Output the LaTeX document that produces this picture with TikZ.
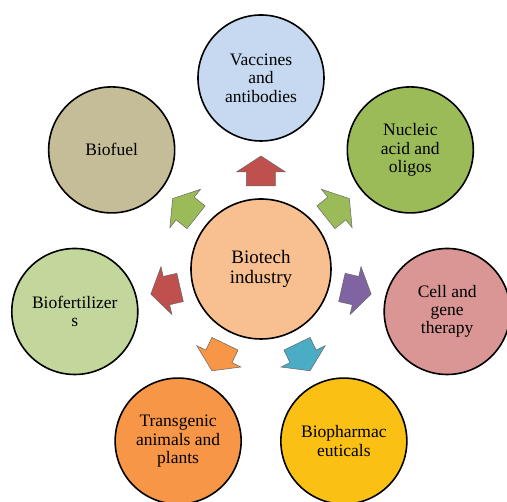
\documentclass[tikz,border=0pt]{standalone}
\usepackage{fontspec}
\setmainfont{Liberation Serif}

\definecolor{hubpeach}{RGB}{248,192,144}
\definecolor{vaccblue}{RGB}{198,217,240}
\definecolor{nuclgreen}{RGB}{155,187,89}
\definecolor{cellpink}{RGB}{217,150,148}
\definecolor{pharmgold}{RGB}{250,192,20}
\definecolor{transorange}{RGB}{247,150,70}
\definecolor{fertgreen}{RGB}{195,214,155}
\definecolor{fueltan}{RGB}{196,189,151}
\definecolor{arrred}{RGB}{192,80,77}
\definecolor{arrgreen}{RGB}{155,187,89}
\definecolor{arrpurple}{RGB}{128,100,162}
\definecolor{arrteal}{RGB}{75,172,198}
\definecolor{arrorange}{RGB}{247,150,70}

\begin{document}
\begin{tikzpicture}[x=1pt,y=1pt,
    hub/.style={circle,draw,line width=1.6pt,minimum size=140pt,inner sep=0pt,
        align=center,font=\rmfamily\fontsize{19}{20}\selectfont},
    spoke/.style={circle,draw,line width=1.6pt,minimum size=126pt,inner sep=0pt,
        align=center,font=\rmfamily\fontsize{17.5}{18.3}\selectfont},
    blockarrow/.style={draw=black!60,line width=0.5pt}]
% frame
\useasboundingbox (-261,-233) rectangle (246,269);
\clip (-261,-233) rectangle (246,269);
\fill[white] (-261,-233) rectangle (246,269);

% nodes
\node[hub,fill=hubpeach] (hub) at (0,0) {Biotech\\industry};

\foreach \i/\name/\col/\txt in {0/vacc/vaccblue/{Vaccines\\and\\antibodies},
    1/nucl/nuclgreen/{Nucleic\\acid and\\oligos},
    2/cell/cellpink/{Cell and\\gene\\therapy},
    3/pharm/pharmgold/{Biopharmac\\euticals},
    4/trans/transorange/{Transgenic\\animals and\\plants},
    5/fert/fertgreen/{Biofertilizer\\s},
    6/fuel/fueltan/{Biofuel}}
{
    \node[spoke,fill=\col] (\name) at (90-\i*360/7:191) {\txt};
}

% arrows
\foreach \i/\col in {0/arrred,1/arrgreen,2/arrpurple,3/arrteal,4/arrorange,5/arrred,6/arrgreen}
{
    \draw[blockarrow,fill=\col,rotate=-\i*360/7]
        (-14.5,83) -- (14.5,83) -- (14.5,97) -- (24.5,97) -- (0,113)
        -- (-24.5,97) -- (-14.5,97) -- cycle;
}

\end{tikzpicture}
\end{document}
